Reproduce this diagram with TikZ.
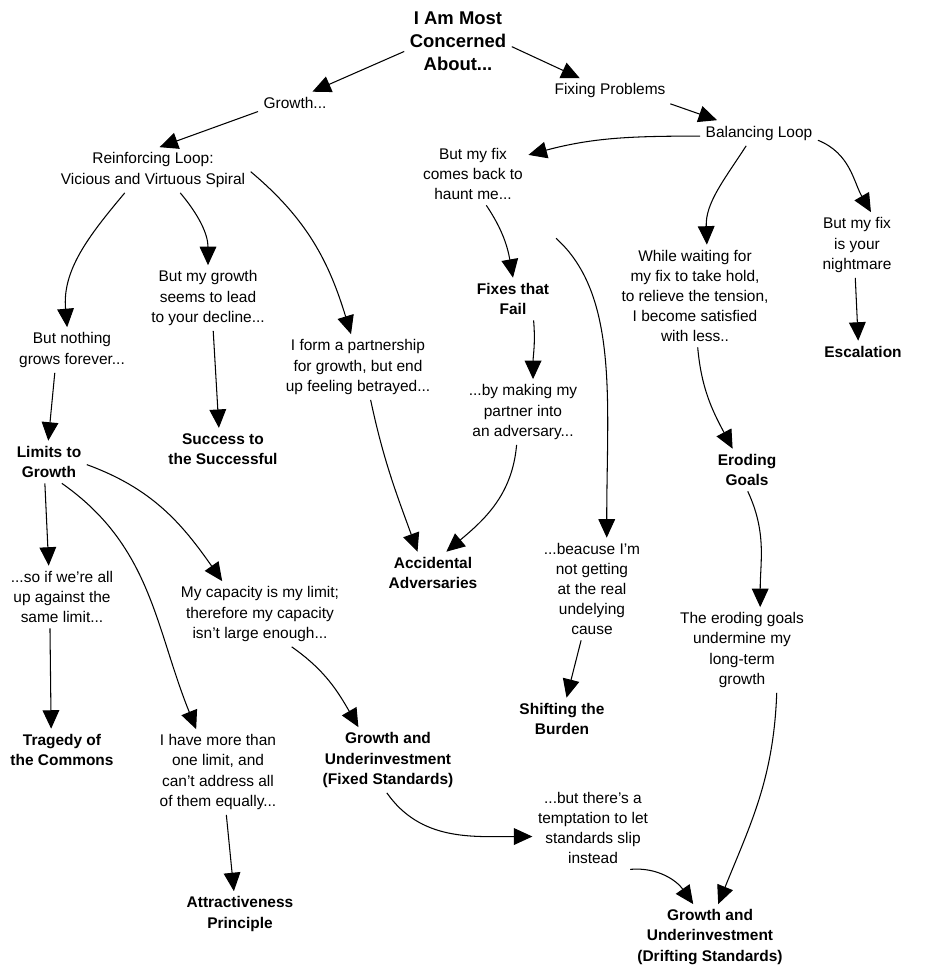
\documentclass[tikz,border=0pt]{standalone}
\usepackage{fontspec}
\setmainfont{Liberation Sans}
\usetikzlibrary{arrows.meta}

\begin{document}
\begin{tikzpicture}[x=0.02cm,y=-0.02cm,
	txt/.style={align=center,inner sep=3pt,font=\fontsize{8.8}{11.4}\selectfont},
	key/.style={txt,font=\fontsize{8.8}{11.4}\selectfont\bfseries},
	arr/.style={-{Triangle[length=10.5pt,width=9.5pt]},line width=0.6pt}]
	\useasboundingbox (0,0) rectangle (932,967);

	\node[key,font=\fontsize{10.5}{13}\selectfont\bfseries] (top) at (458,41) {I Am Most\\Concerned\\About...};
	\node[txt] (growth) at (295,103) {Growth...};
	\node[txt] (fixing) at (610,91) {Fixing Problems};
	\node[txt] (balancing) at (759,133) {Balancing Loop};
	\node[txt] (reinf) at (153,170) {Reinforcing Loop:\\Vicious and Virtuous Spiral};
	\node[txt] (haunt) at (473,174) {But my fix\\comes back to\\haunt me...};
	\node[txt] (nothing) at (72,350) {But nothing\\grows forever...};
	\node[txt] (decline) at (208,298) {But my growth\\seems to lead\\to your decline...};
	\node[txt] (partner) at (358,367) {I form a partnership\\for growth, but end\\up feeling betrayed...};
	\node[key] (fixesfail) at (513,299) {Fixes that\\Fail};
	\node[txt] (waiting) at (695,296) {While waiting for\\my fix to take hold,\\to relieve the tension,\\I become satisfied\\with less..};
	\node[txt] (nightmare) at (857,245) {But my fix\\is your\\nightmare};
	\node[key] (escalation) at (863,352) {Escalation};
	\node[txt] (adversary) at (523,412) {...by making my\\partner into\\an adversary...};
	\node[key] (limits) at (49,462) {Limits to\\Growth};
	\node[key] (success) at (223,449) {Success to\\the Successful};
	\node[key] (accidental) at (433,573) {Accidental\\Adversaries};
	\node[key] (eroding) at (747,470) {Eroding\\Goals};
	\node[txt] (samelimit) at (62,597) {...so if we're all\\up against the\\same limit...};
	\node[txt] (capacity) at (260,614) {My capacity is my limit;\\therefore my capacity\\isn't large enough...};
	\node[txt] (because) at (592,589) {...beacuse I'm\\not getting\\at the real\\undelying\\cause};
	\node[txt] (undermine) at (742,650) {The eroding goals\\undermine my\\long-term\\growth};
	\node[key] (shifting) at (562,719) {Shifting the\\Burden};
	\node[key] (tragedy) at (62,750) {Tragedy of\\the Commons};
	\node[txt] (morethan) at (218,772) {I have more than\\one limit, and\\can't address all\\of them equally...};
	\node[key] (fixedstd) at (388,760) {Growth and\\Underinvestment\\(Fixed Standards)};
	\node[txt] (temptation) at (593,828) {...but there's a\\temptation to let\\standards slip\\instead};
	\node[key] (attractive) at (240,914) {Attractiveness\\Principle};
	\node[key] (drifting) at (710,937) {Growth and\\Underinvestment\\(Drifting Standards)};

	\draw[arr] (top.191) -- (growth.33);
	\draw[arr] (top.-6) -- (fixing.157);
	\draw[arr] (fixing.-12) -- (balancing.163);
	\draw[arr] (growth.193) -- (reinf.74);
	\draw[arr] (balancing.183) to[out=180,in=15] (haunt.19);
	\draw[arr] (balancing.225) to[out=237,in=92] (waiting.77);
	\draw[arr] (balancing.-7) to[out=-22,in=120] (nightmare.67);
	\draw[arr] (reinf.219) to[out=230,in=95] (nothing.102);
	\draw[arr] (reinf.-40) to[out=-50,in=90] (decline.90);
	\draw[arr] (reinf.-1) to[out=-40,in=107] (partner.102);
	\draw[arr] (haunt.-67) to[out=-56,in=100] (fixesfail.90);
	\draw[arr,shorten <=28pt] (haunt.-34) to[out=-42,in=90] (because.74);
	\draw[arr] (fixesfail.-46) to[out=-85,in=90] (adversary.73);
	\draw[arr] (waiting.-87) to[out=-85,in=118] (eroding.124);
	\draw[arr] (nightmare.-93) -- (escalation.113);
	\draw[arr] (nothing.233) -- (limits.92);
	\draw[arr] (decline.-81) -- (success.101);
	\draw[arr] (partner.-69) to[out=-78,in=110] (accidental.126);
	\draw[arr] (adversary.-101) to[out=-95,in=40] (accidental.58);
	\draw[arr] (limits.-101) -- (samelimit.113);
	\draw[arr] (limits.-4) to[out=-20,in=125] (capacity.139);
	\draw[arr] (limits.-59) to[out=-35,in=112] (morethan.117);
	\draw[arr] (because.-102) -- (shifting.78);
	\draw[arr] (eroding.-88) to[out=-65,in=90] (undermine.67);
	\draw[arr] (capacity.-46) to[out=-35,in=120] (fixedstd.132);
	\draw[arr] (samelimit.-111) -- (tragedy.117);
	\draw[arr] (morethan.-79) -- (attractive.105);
	\draw[arr] (fixedstd.-92) to[out=-55,in=180] (temptation.188);
	\draw[arr] (temptation.-48) to[out=5,in=125] (drifting.117);
	\draw[arr] (undermine.-51) to[out=-92,in=68] (drifting.76);
\end{tikzpicture}
\end{document}
